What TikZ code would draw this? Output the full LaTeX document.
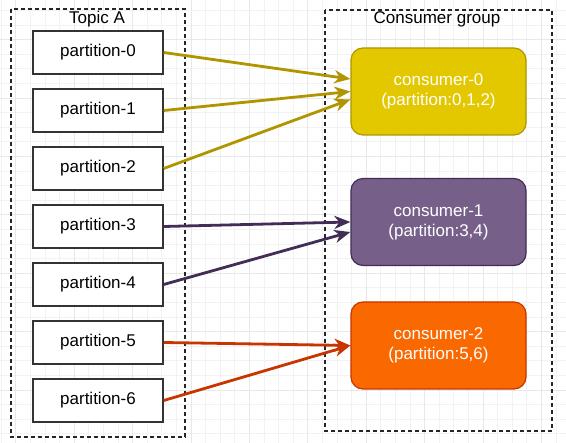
\documentclass[tikz,border=0pt]{standalone}
\usepackage{fontspec}
\setmainfont{Liberation Sans}
\usetikzlibrary{arrows.meta}
\definecolor{goldline}{HTML}{B09500}
\definecolor{goldfill}{HTML}{E3C800}
\definecolor{plumline}{HTML}{432D57}
\definecolor{plumfill}{HTML}{76608A}
\definecolor{rustline}{HTML}{C73500}
\definecolor{rustfill}{HTML}{FA6800}
\newcommand{\arw}{-{Stealth[length=16pt,width=13pt,inset=5pt]}}

\begin{document}
\begin{tikzpicture}[x=1pt,y=-1pt,
  every node/.style={font=\fontsize{17}{20}\selectfont},
  part/.style={draw=black!80,line width=1.4pt,fill=white,minimum width=130pt,minimum height=43pt,inner sep=0pt},
  cons/.style={draw=#1line,fill=#1fill,line width=1.2pt,rounded corners=12pt,text=white,align=center,minimum width=175pt,minimum height=87pt,inner sep=0pt},
  grp/.style={draw=black!85,line width=1.4pt,dash pattern=on 4pt off 3pt},
  link/.style={draw=#1line,line width=2.8pt}]
\useasboundingbox[fill=white] (0,0) rectangle (566,443);
%background grid
\foreach \i in {0,...,38} \draw[black!5,line width=.6pt] ({1.1+14.6*\i},0) -- ({1.1+14.6*\i},443);
\foreach \i in {0,...,30} \draw[black!5,line width=.6pt] (0,{-4.2+14.6*\i}) -- (566,{-4.2+14.6*\i});
\foreach \i in {0,...,9} \draw[black!9,line width=.6pt] ({15.7+58.4*\i},0) -- ({15.7+58.4*\i},443);
\foreach \i in {0,...,7} \draw[black!9,line width=.6pt] (0,{39.6+58.4*\i}) -- (566,{39.6+58.4*\i});
%groups
\draw[grp] (11,9) rectangle (185,437);
\draw[grp] (325,10) rectangle (552,431);
\node (topicA) at (97,19) {Topic A};
\node (cgroup) at (437,19) {Consumer group};
%partitions
\foreach \i in {0,...,6} \node[part] (p\i) at (98,{52.5+58*\i}) {partition-\i};
%consumers
\node[cons=gold] (c0) at (438.5,91.5) {consumer-0\\(partition:0,1,2)};
\node[cons=plum] (c1) at (438.5,222) {consumer-1\\(partition:3,4)};
\node[cons=rust] (c2) at (438.5,345.5) {consumer-2\\(partition:5,6)};
%assignments
\draw[link=gold,\arw] (p0.east) -- ([yshift=12.5pt]c0.west);
\draw[link=gold,\arw] (p1.east) -- (c0.west);
\draw[link=gold,\arw] (p2.east) -- ([yshift=-8pt]c0.west);
\draw[link=plum,\arw] (p3.east) -- (c1.west);
\draw[link=plum,\arw] (p4.east) -- ([yshift=-10pt]c1.west);
\draw[link=rust,\arw] (p5.east) -- (c2.west);
\draw[link=rust,\arw] (p6.east) -- (c2.west);
\end{tikzpicture}
\end{document}
